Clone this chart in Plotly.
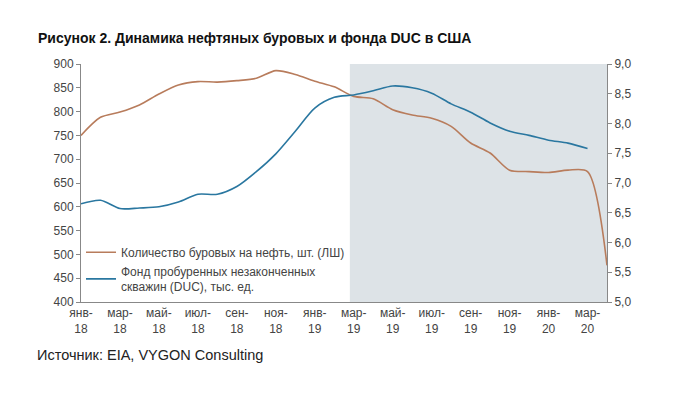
import plotly.graph_objects as go

months = list(range(28))
month_labels = ["янв-<br>18", "мар-<br>18", "май-<br>18", "июл-<br>18", "сен-<br>18", "ноя-<br>18",
                "янв-<br>19", "мар-<br>19", "май-<br>19", "июл-<br>19", "сен-<br>19", "ноя-<br>19",
                "янв-<br>20", "мар-<br>20"]
label_pos = list(range(0, 28, 2))

rigs = [750, 788, 799, 814, 837, 856, 863, 862, 865, 870, 886, 878, 864, 852,
        832, 827, 804, 793, 786, 769, 734, 713, 677, 674, 672, 677, 674, 477]
duc = [6.65, 6.71, 6.57, 6.58, 6.60, 6.68, 6.81, 6.81, 6.94, 7.19, 7.49, 7.87, 8.26, 8.44,
       8.48, 8.55, 8.63, 8.60, 8.51, 8.33, 8.19, 8.01, 7.87, 7.80, 7.72, 7.67, 7.58]

shade_start = 13.8
shade_end = 27

name_rigs = "Количество буровых на нефть, шт. (ЛШ)"
name_duc = "Фонд пробуренных незаконченных<br>скважин (DUC), тыс. ед."

W, H = 681, 385
L, T = 73, 56
R = W - 599
B = H - 294
PW, PH = W - L - R, H - T - B

fig = go.Figure()
fig.add_vrect(x0=shade_start, x1=shade_end, fillcolor="#dde3e7", line_width=0, layer="below")
fig.add_trace(go.Scatter(x=months, y=rigs, name=name_rigs, mode="lines",
                         line=dict(color="#b87c5c", width=1.6, shape="spline", smoothing=0.8)))
fig.add_trace(go.Scatter(x=months[:len(duc)], y=duc, name=name_duc, mode="lines", yaxis="y2",
                         line=dict(color="#2a77a0", width=1.6, shape="spline", smoothing=0.8)))

axis_font = dict(family="Liberation Sans, Arial, sans-serif", size=12, color="#444")
fig.update_layout(
    width=W, height=H,
    margin=dict(l=L, r=R, t=T, b=B),
    paper_bgcolor="white", plot_bgcolor="white",
    font=dict(family="Liberation Sans, Arial, sans-serif", size=12, color="#333"),
    title=dict(text="<b>Рисунок 2. Динамика нефтяных буровых и фонда DUC в США</b>",
               x=30/W, xanchor="left", y=1-30/H, yanchor="middle",
               font=dict(size=14, color="#111")),
    xaxis=dict(range=[0, 27], tickmode="array", tickvals=label_pos, ticktext=month_labels,
               showgrid=False, zeroline=False, showline=True, linecolor="#888", linewidth=1,
               ticks="", tickfont=axis_font),
    yaxis=dict(range=[400, 900], dtick=50, showgrid=False, zeroline=False, showline=True,
               linecolor="#888", linewidth=1, ticks="outside", ticklen=4, tickcolor="#888",
               tickfont=axis_font),
    yaxis2=dict(range=[5.0, 9.0], dtick=0.5, overlaying="y", side="right", showgrid=False,
                zeroline=False, showline=True, linecolor="#888", linewidth=1, ticks="outside",
                ticklen=4, tickcolor="#888", tickformat=".1f",
                tickfont=axis_font),
    separators=", ",
    legend=dict(x=0, y=0.27, xanchor="left", yanchor="top", bgcolor="rgba(0,0,0,0)",
                font=dict(size=12, color="#444"), tracegroupgap=0, itemwidth=30),
    showlegend=True,
)
fig.add_annotation(text="Источник: EIA, VYGON Consulting", xref="paper", yref="paper",
                   x=(27 - L)/PW, y=-(347 - 294)/PH, xanchor="left", yanchor="middle", showarrow=False,
                   font=dict(size=14.5, color="#222"))
fig.write_html("out.html")
